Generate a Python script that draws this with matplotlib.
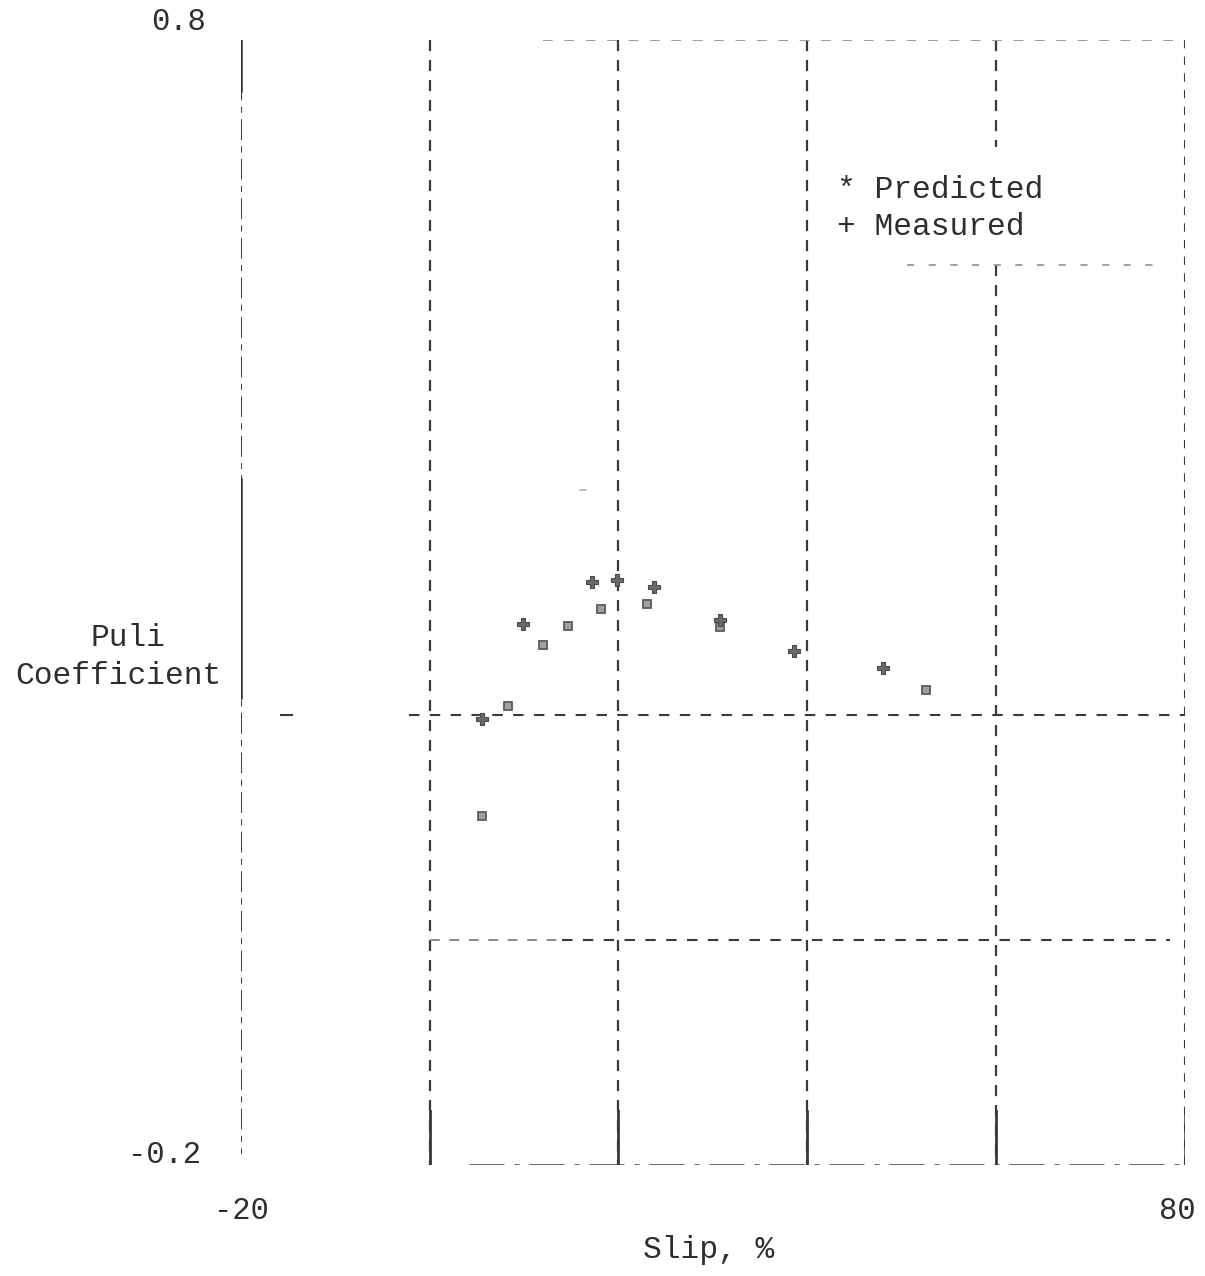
import matplotlib
matplotlib.use("Agg")
import matplotlib.pyplot as plt

# Pull coefficient vs. slip
measured_slip = [5.5, 9.9, 17.2, 19.9, 23.8, 30.8, 38.6, 48.0]
measured_pull = [0.196, 0.281, 0.318, 0.320, 0.314, 0.284, 0.257, 0.242]

predicted_slip = [5.5, 8.3, 12.0, 14.7, 18.2, 23.0, 30.8, 52.6]
predicted_pull = [0.110, 0.208, 0.262, 0.279, 0.294, 0.299, 0.278, 0.222]

x_limits = [-20, 80]
y_limits = [-0.2, 0.8]
grid_x = [0, 20, 40, 60]
grid_y = [0.0, 0.2]

FONT = "Liberation Mono"
TXT = "#2e2e2e"
GRID = "#3a3a3a"

fig = plt.figure(figsize=(12.05, 12.76), dpi=100)
ax = fig.add_axes([0.2000, 0.087, 0.7830, 0.8817])
ax.set_xlim(*x_limits)
ax.set_ylim(*y_limits)
for s in ax.spines.values():
    s.set_visible(False)
ax.set_xticks([])
ax.set_yticks([])

dash = dict(color=GRID, lw=1.6, dashes=(5, 4))

# vertical grid lines
for gx in grid_x:
    if gx == 60:
        ax.plot([gx, gx], [0.8, 0.705], **dash)
        ax.plot([gx, gx], [0.6, -0.2], **dash)
    else:
        ax.plot([gx, gx], [0.8, -0.2], **dash)
    # solid foot of each grid line
    ax.plot([gx, gx], [-0.2, -0.152], color=GRID, lw=2.0)

# frame: left and right edges
ax.plot([-20, -20], [0.8, -0.19], color="#444444", lw=1.5, dashes=(10, 3, 3, 3))
ax.plot([-20, -20], [0.8, 0.755], color="#333333", lw=1.8)
ax.plot([-20, -20], [0.41, 0.215], color="#333333", lw=1.8)
ax.plot([80, 80], [0.8, -0.2], color=GRID, lw=1.5, dashes=(4, 4))
ax.plot([80, 80], [-0.15, -0.2], color=GRID, lw=1.8)

# horizontal lines
ax.plot([-2.2, 80], [0.2, 0.2], color=GRID, lw=1.5, dashes=(5, 5))
ax.plot([-15.8, -14.6], [0.2, 0.2], color=GRID, lw=1.5)
ax.plot([0, 14], [0.0, 0.0], color="#8a8a8a", lw=1.4, dashes=(5, 5))
ax.plot([14, 78.5], [0.0, 0.0], color=GRID, lw=1.5, dashes=(5, 5))
ax.plot([4.2, 79.5], [-0.2, -0.2], color=GRID, lw=1.8, dashes=(14, 4, 2, 4))
ax.plot([12, 80], [0.8, 0.8], color="#9a9a9a", lw=1.4, dashes=(5, 6))
ax.plot([50.6, 76.8], [0.6, 0.6], color="#9a9a9a", lw=1.3, dashes=(4, 8))
ax.plot([15.9, 16.6], [0.4, 0.4], color="#b0b0b0", lw=1.2)

# data points
ax.plot(predicted_slip, predicted_pull, ls="none", marker="s", ms=6,
        mfc="#a0a0a0", mec="#5a5a5a", mew=1.3, zorder=5)
ax.plot(measured_slip, measured_pull, ls="none", marker="P", ms=8,
        mfc="#6a6a6a", mec="#4a4a4a", mew=0.8, zorder=6)

# legend text
ax.text(43.2, 0.667, "* Predicted", fontsize=22.5, family=FONT, color=TXT,
        va="center", ha="left")
ax.text(43.2, 0.634, "+ Measured", fontsize=22.5, family=FONT, color=TXT,
        va="center", ha="left")

# axis labels
ax.annotate("0.8", xy=(-20, 0.8), xytext=(-25, 13), textcoords="offset points",
            ha="right", va="center", fontsize=22, family=FONT, color=TXT,
            annotation_clip=False)
ax.annotate("-0.2", xy=(-20, -0.2), xytext=(-29, 7), textcoords="offset points",
            ha="right", va="center", fontsize=22, family=FONT, color=TXT,
            annotation_clip=False)
ax.annotate("-20", xy=(-20, -0.2), xytext=(0, -33), textcoords="offset points",
            ha="center", va="center", fontsize=22, family=FONT, color=TXT,
            annotation_clip=False)
ax.annotate("80", xy=(80, -0.2), xytext=(-5, -33), textcoords="offset points",
            ha="center", va="center", fontsize=22, family=FONT, color=TXT,
            annotation_clip=False)
fig.text(0.588, 0.020, "Slip, %", fontsize=22.5, family=FONT, color=TXT,
         ha="center", va="center")
fig.text(0.106, 0.500, "Puli", fontsize=22.5, family=FONT, color=TXT,
         ha="center", va="center")
fig.text(0.098, 0.470, "Coefficient", fontsize=22.5, family=FONT, color=TXT,
         ha="center", va="center")

fig.savefig("out.png", dpi=100, facecolor="white")
